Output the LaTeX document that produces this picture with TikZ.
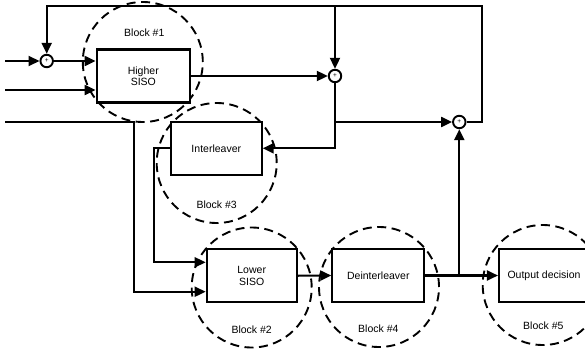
\documentclass[tikz,border=0pt]{standalone}
\usepackage{fontspec}
\setmainfont{Liberation Sans}
\usetikzlibrary{arrows.meta}
\begin{document}
\begin{tikzpicture}[x=1pt,y=-1pt,
  blk/.style={draw, line width=2.1pt, rectangle, minimum height=53pt, inner sep=0pt,
    font=\fontsize{10.5}{11.5}\selectfont, align=center, fill=white},
  sumn/.style={circle, draw, line width=1.9pt, minimum size=12.5pt, inner sep=0pt,
    font=\fontsize{6.5}{6.5}\selectfont, fill=white},
  dcirc/.style={circle, draw, dash pattern=on 9pt off 5.5pt, line width=1.9pt,
    minimum size=120pt, inner sep=0pt},
  lbl/.style={font=\fontsize{10.5}{11.5}\selectfont, inner sep=0pt},
  conn/.style={line width=2.1pt, -{Triangle[length=11pt,width=10pt]}}
]
\useasboundingbox (0,0) rectangle (585,353);
\clip (0,0) rectangle (585,353);

% dashed block circles
\node[dcirc] (c1) at (142.8,62) {};
\node[dcirc] (c3) at (216.7,163) {};
\node[dcirc] (c2) at (251.7,287.5) {};
\node[dcirc] (c4) at (379,287) {};
\node[dcirc] (c5) at (542.7,285) {};

\node[lbl] (l1) at (144.3,32.3) {Block \#1};
\node[lbl] (l3) at (216.7,205) {Block \#3};
\node[lbl] (l2) at (251.7,330) {Block \#2};
\node[lbl] (l4) at (378.3,328.3) {Block \#4};
\node[lbl] (l5) at (543.3,326) {Block \#5};

% boxes
\node[blk, minimum width=93.3pt] (hs) at (143.3,76) {Higher\\SISO};
\node[blk, minimum width=90.7pt] (il) at (216.3,148.3) {Interleaver};
\node[blk, minimum width=90pt] (ls) at (251.7,275.7) {Lower\\SISO};
\node[blk, minimum width=92pt] (di) at (378.3,275.5) {Deinterleaver};
\node[blk, minimum width=90pt] (od) at (544,275.5) {Output decision};

% summing junctions
\node[sumn] (s1) at (46.7,61) {+};
\node[sumn] (sa) at (335,76) {+};
\node[sumn] (sb) at (459.3,122) {+};

% helper coordinates
\coordinate (in1) at (5,61);
\coordinate (in2) at (5,90);
\coordinate (in3) at (5,121.7);
\coordinate (k3) at (134.3,121.7);
\coordinate (k3b) at (134.3,291.7);
\coordinate (tl) at (46.7,6);
\coordinate (tr) at (481.7,6);
\coordinate (tm) at (335,6);
\coordinate (rb) at (481.7,122);
\coordinate (ja) at (335,122);
\coordinate (ka) at (335,148.3);
\coordinate (ki) at (154.3,148.3);
\coordinate (kib) at (154.3,262.3);
\coordinate (jd) at (459.3,275.5);

% connectors
\draw[conn] (in1) -- (s1);
\draw[conn] (s1) -- (s1 -| hs.west);
\draw[conn] (in2) -- (in2 -| hs.west);
\draw[conn] (in3) -- (k3) -- (k3b) -- (k3b -| ls.west);
\draw[conn] (hs.east) -- (sa);
\draw[conn] (sb) -- (rb) -- (tr) -- (tl) -- (s1);
\draw[conn] (tm) -- (sa);
\draw[conn] (sa) -- (ka) -- (il.east);
\draw[conn] (ja) -- (sb);
\draw[conn] (il.west) -- (ki) -- (kib) -- (kib -| ls.west);
\draw[conn] (ls.east) -- (di.west);
\draw[conn] (di.east) -- (od.west);
\draw[conn] (jd) -- (sb);
\end{tikzpicture}
\end{document}
